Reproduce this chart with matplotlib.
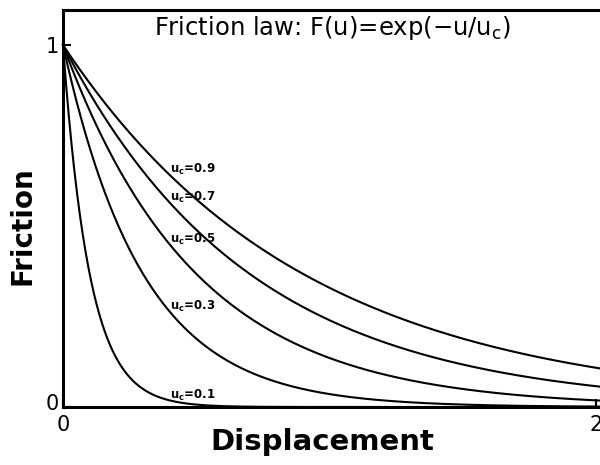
import numpy as np
import matplotlib
matplotlib.use("Agg")
import matplotlib.pyplot as plt
import matplotlib.transforms as mtransforms

# critical slip distances for each curve
uc_values = [0.1, 0.3, 0.5, 0.7, 0.9]
label_x = 0.4
x_ticks = [0, 2]
y_ticks = [0, 1]

plt.rcParams['font.family'] = ['DejaVu Sans']
plt.rcParams['mathtext.fontset'] = 'dejavusans'

fig = plt.figure(figsize=(6.0, 4.65), dpi=100)
ax = fig.add_axes([0.105, 0.1247, 0.933, 0.854])

u = np.linspace(0, 2.1, 600)
for uc in uc_values:
    ax.plot(u, np.exp(-u / uc), color='black', lw=1.5, clip_on=False)
    ax.text(label_x, np.exp(-label_x / uc) + 0.014,
            'u$_\\mathregular{c}$=%g' % uc,
            fontsize=8.5, fontweight='bold', ha='left', va='center')

ax.set_xlim(0, 2.1)
ax.set_ylim(0, 1.097)
ax.set_xticks(x_ticks)
ax.set_yticks(y_ticks)
ax.set_xticklabels([str(t) for t in x_ticks], fontsize=15)
ax.set_yticklabels([str(t) for t in y_ticks], fontsize=15)
ax.tick_params(direction='in', length=6, width=1.5)
ax.tick_params(axis='x', pad=6)
ax.tick_params(axis='y', pad=3)
for s in ax.spines.values():
    s.set_linewidth(2.2)

# lift the lower y label clear of the x label at the origin
lbl0 = ax.get_yticklabels()[0]
lbl0.set_transform(lbl0.get_transform() +
                   mtransforms.ScaledTranslation(0, 5 / 100, fig.dpi_scale_trans))

fig.text(0.555, 0.94, 'Friction law: F(u)=exp(\u2212u/u$_\\mathregular{c}$)',
         fontsize=17.5, ha='center', va='center')
fig.text(0.538, 0.05, 'Displacement', fontsize=21, fontweight='bold',
         ha='center', va='center')
fig.text(0.037, 0.515, 'Friction', fontsize=20, fontweight='bold',
         ha='center', va='center', rotation=90)

fig.savefig('out.png', dpi=100)
